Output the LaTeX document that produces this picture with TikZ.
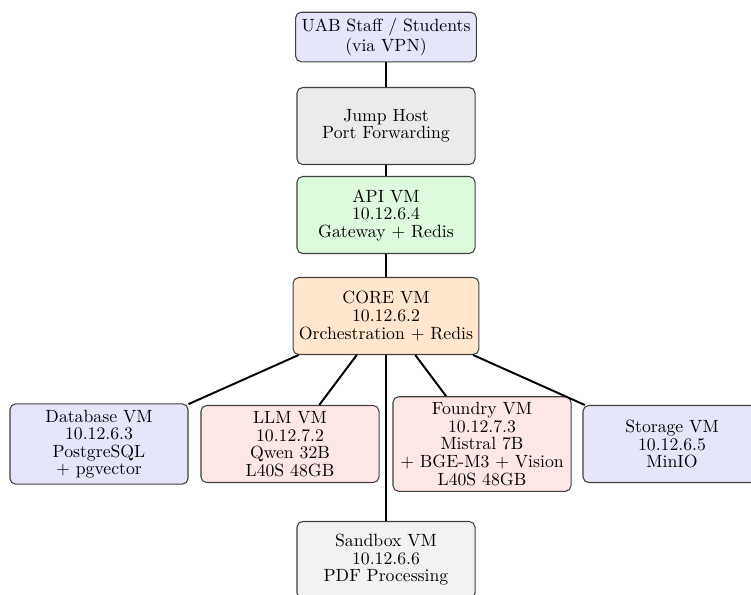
\documentclass[tikz,border=0pt]{standalone}
\usepackage{xcolor}
\usepackage{tikz}
\definecolor{boxline}{HTML}{404040}
\definecolor{userbg}{HTML}{E6E6FA}
\definecolor{jumpbg}{HTML}{EBEBEB}
\definecolor{apibg}{HTML}{DDFADD}
\definecolor{corebg}{HTML}{FFE6CC}
\definecolor{databg}{HTML}{E6E6FA}
\definecolor{gpubg}{HTML}{FDE6E6}
\definecolor{sandbg}{HTML}{F2F2F2}
\tikzset{
  box/.style={draw=boxline, line width=0.6pt, rounded corners=3.2pt, align=center,
    font=\fontsize{10}{9.9}\selectfont, minimum width=100.6pt, minimum height=43.5pt},
  link/.style={draw=black, line width=1.1pt},
}

\begin{document}
\begin{tikzpicture}[x=0.565pt, y=-0.565pt]
  \useasboundingbox (0,0) rectangle (751,594);
  % access path
  \node[box, fill=userbg, minimum height=28pt] (user) at (386,37) {UAB Staff / Students\\(via VPN)};
  \node[box, fill=jumpbg] (jump) at (386,126) {Jump Host\\Port Forwarding};
  \node[box, fill=apibg] (api) at (386,215) {API VM\\10.12.6.4\\Gateway + Redis};
  \node[box, fill=corebg] (core) at (386,316) {CORE VM\\10.12.6.2\\Orchestration + Redis};
  % backend VMs
  \node[box, fill=databg] (db) at (99,444) {Database VM\\10.12.6.3\\PostgreSQL\\+ pgvector};
  \node[box, fill=gpubg] (llm) at (290,444) {LLM VM\\10.12.7.2\\Qwen 32B\\L40S 48GB};
  \node[box, fill=gpubg] (foundry) at (482,444) {Foundry VM\\10.12.7.3\\Mistral 7B\\+ BGE-M3 + Vision\\L40S 48GB};
  \node[box, fill=databg] (storage) at (672,444) {Storage VM\\10.12.6.5\\MinIO};
  \node[box, fill=sandbg] (sandbox) at (386,560) {Sandbox VM\\10.12.6.6\\PDF Processing};
  % links
  \draw[link] (user) -- (jump);
  \draw[link] (jump) -- (api);
  \draw[link] (api) -- (core);
  \draw[link] (core) -- (db);
  \draw[link] (core) -- (llm);
  \draw[link] (core) -- (foundry);
  \draw[link] (core) -- (storage);
  \draw[link] (core) -- (sandbox);
\end{tikzpicture}
\end{document}
